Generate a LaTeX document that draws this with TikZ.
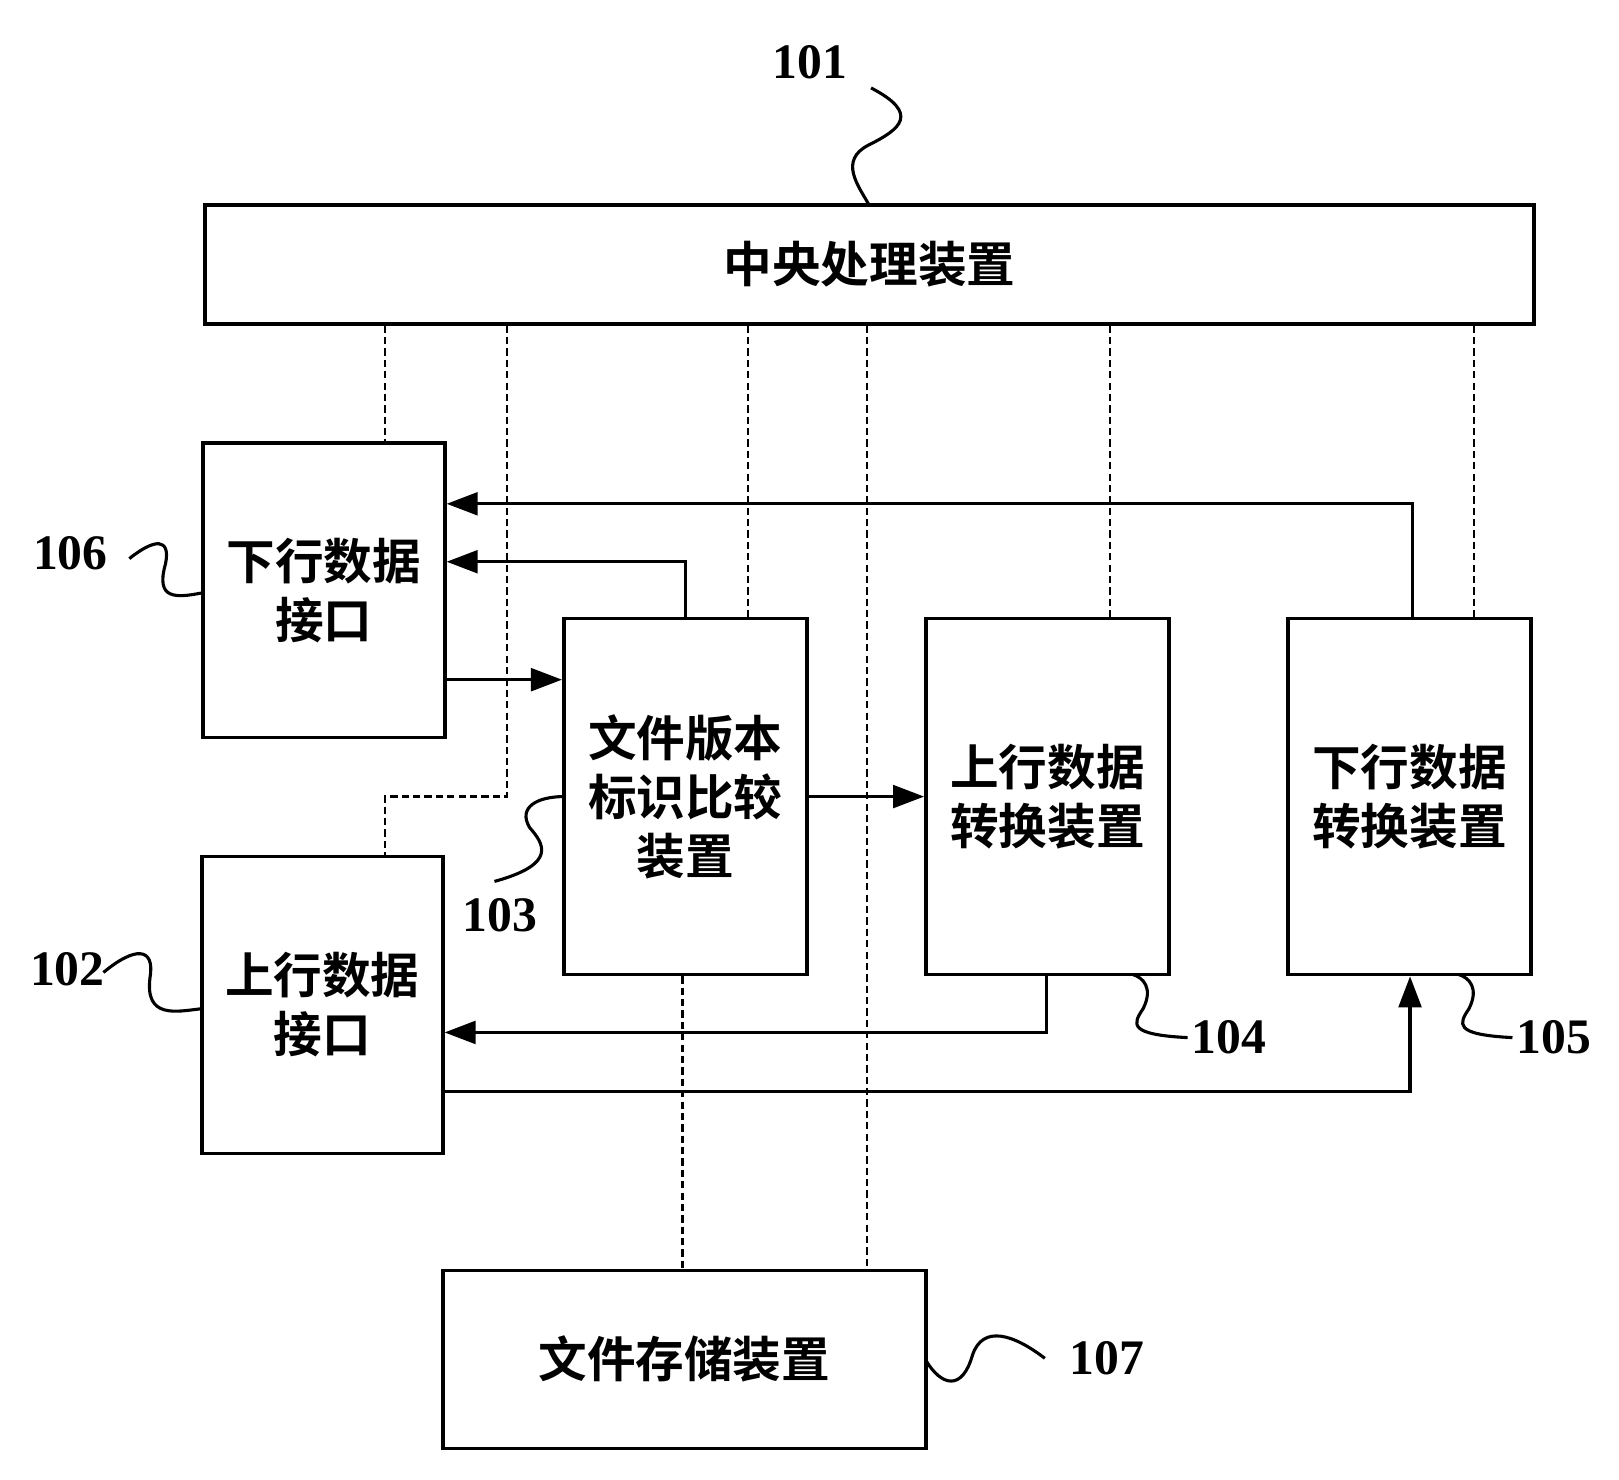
\documentclass[tikz,border=0pt]{standalone}
\usepackage{fontspec}
\setmainfont{Liberation Serif}
\newfontfamily\cjk{Noto Sans CJK SC Bold}
\usetikzlibrary{arrows.meta}
\begin{document}
\begin{tikzpicture}[x=1pt,y=-1pt,
  box/.style={draw,line width=3.5pt,inner sep=0pt,font=\cjk\fontsize{47}{57}\selectfont,align=center},
  dl/.style={line width=2.5pt,dash pattern=on 7pt off 4pt},
  arr/.style={line width=3pt,-{Triangle[length=30pt,width=22pt]}},
  lab/.style={font=\bfseries\fontsize{48}{50}\selectfont},
  sq/.style={line width=3pt}]
\useasboundingbox (0,0) rectangle (1565,1430);
\node[box,minimum width=1285pt,minimum height=115pt] (cpu) at (840.5,255.5) {中央处理装置};
\node[box,minimum width=234pt,minimum height=285pt] (dn) at (313,570.5) {下行数据\\接口};
\node[box,minimum width=233pt,minimum height=287pt] (up) at (311.5,971.5) {上行数据\\接口};
\node[box,minimum width=235pt,minimum height=344pt] (cmp) at (662.5,770) {文件版本\\标识比较\\装置};
\node[box,minimum width=235pt,minimum height=344pt] (uc) at (1012.5,770) {上行数据\\转换装置};
\node[box,minimum width=235pt,minimum height=344pt] (dc) at (1362.5,770) {下行数据\\转换装置};
\node[box,minimum width=467pt,minimum height=172pt] (fs) at (661.5,1314) {文件存储装置};
% dashed
\draw[dl] (cpu.south -| 372,0) -- (dn.north -| 372,0);
\coordinate (b1) at (490,770);
\coordinate (b2) at (372,770);
\draw[dl] (cpu.south -| 490,0) -- (b1) -- (b2) -- (up.north -| 372,0);
\draw[dl] (cpu.south -| 723,0) -- (cmp.north -| 723,0);
\draw[dl] (cpu.south -| 838,0) -- (fs.north -| 838,0);
\draw[dl] (cpu.south -| 1073,0) -- (uc.north -| 1073,0);
\draw[dl] (cpu.south -| 1425,0) -- (dc.north -| 1425,0);
\draw[dl] (cmp.south -| 660,0) -- (fs.north -| 660,0);
% arrows
\draw[arr] (dc.north -| 1365,0) |- (dn.east |- 0,487);
\draw[arr] (cmp.north -| 663,0) |- (dn.east |- 0,543);
\draw[arr] (dn.east |- 0,657) -- (cmp.west |- 0,657);
\draw[arr] (cmp.east) -- (uc.west);
\draw[arr] (uc.south -| 1012,0) |- (up.east |- 0,998);
\draw[arr] (up.east |- 0,1055) -| (dc.south -| 1363,0);
% labels
\node[lab] (l101) at (783,60) {101};
\draw[sq] (842,85) .. controls (890,110) and (870,125) .. (840,140) .. controls (810,155) and (830,180) .. (840,198);
\node[lab] (l106) at (68,535) {106};
\draw[sq] (125,540) .. controls (150,520) and (165,520) .. (160,545) .. controls (150,580) and (170,578) .. (196,573);
\node[lab] (l102) at (65,937) {102};
\draw[sq] (100,940) .. controls (130,915) and (150,915) .. (145,945) .. controls (140,985) and (170,978) .. (195,975);
\node[lab] (l103) at (483,885) {103};
\draw[sq] (478,852) .. controls (540,835) and (525,815) .. (512,800) .. controls (500,780) and (520,770) .. (545,770);
\node[lab] (l104) at (1188,1003) {104};
\draw[sq] (1148,1003) .. controls (1090,1000) and (1095,990) .. (1105,975) .. controls (1115,955) and (1105,945) .. (1095,942);
\node[lab] (l105) at (1502,1003) {105};
\draw[sq] (1462,1003) .. controls (1405,1000) and (1410,990) .. (1420,975) .. controls (1430,955) and (1420,945) .. (1410,942);
\node[lab] (l107) at (1070,1313) {107};
\draw[sq] (1010,1313) .. controls (980,1290) and (950,1280) .. (940,1310) .. controls (930,1345) and (910,1340) .. (895,1315);
\end{tikzpicture}
\end{document}
